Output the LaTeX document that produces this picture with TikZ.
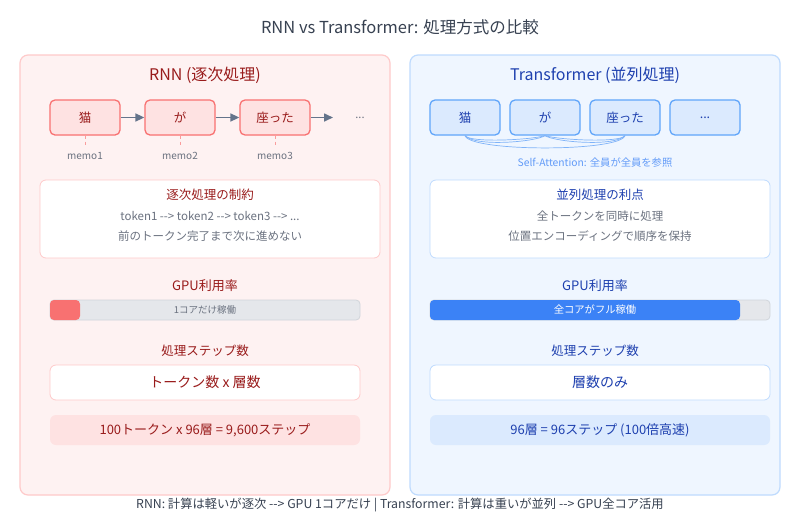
\documentclass[tikz,border=0pt]{standalone}
\usepackage{fontspec}
\setmainfont[Ligatures=TeXOff]{Noto Sans CJK JP}
\usetikzlibrary{arrows.meta}
\definecolor{rPanel}{HTML}{FEF2F2}
\definecolor{rPanelB}{HTML}{FECACA}
\definecolor{rTok}{HTML}{FEE2E2}
\definecolor{rTokB}{HTML}{F87171}
\definecolor{rText}{HTML}{991B1B}
\definecolor{rBar}{HTML}{F87171}
\definecolor{bPanel}{HTML}{EFF6FF}
\definecolor{bPanelB}{HTML}{BFDBFE}
\definecolor{bTok}{HTML}{DBEAFE}
\definecolor{bTokB}{HTML}{60A5FA}
\definecolor{bText}{HTML}{1E40AF}
\definecolor{bBar}{HTML}{3B82F6}
\definecolor{bAtt}{HTML}{7FB3F8}
\definecolor{greyT}{HTML}{6B7280}
\definecolor{arrowC}{HTML}{64748B}
\definecolor{barBg}{HTML}{E5E7EB}
\definecolor{barB}{HTML}{D1D5DB}
\definecolor{darkT}{HTML}{374151}
\tikzset{
  panel/.style={rounded corners=8pt, line width=1.2pt, minimum width=370pt, minimum height=440pt, inner sep=0pt},
  tokbox/.style={rounded corners=5pt, line width=1.3pt, minimum width=70pt, minimum height=35pt, inner sep=0pt, font=\fontsize{12.5}{14}\selectfont},
  infobox/.style={rounded corners=6pt, line width=0.8pt, fill=white, minimum width=340pt, minimum height=78pt, inner sep=0pt},
  stepbox/.style={rounded corners=6pt, line width=0.8pt, fill=white, minimum width=310pt, minimum height=35pt, inner sep=0pt, font=\fontsize{14}{16}\selectfont},
  resbox/.style={rounded corners=6pt, minimum width=310pt, minimum height=30pt, inner sep=0pt, font=\fontsize{13}{15}\selectfont},
  ttl/.style={font=\fontsize{16}{19}\selectfont},
  hd/.style={font=\fontsize{12.5}{14}\selectfont},
  small/.style={font=\fontsize{11.5}{13}\selectfont, text=greyT},
  tiny/.style={font=\fontsize{10}{11}\selectfont},
  flow/.style={-{Triangle[length=9pt,width=8pt]}, line width=1.6pt, draw=arrowC},
}
\begin{document}
\begin{tikzpicture}[x=1pt,y=-1pt]
\useasboundingbox (0,0) rectangle (800,520);
\fill[white] (0,0) rectangle (800,520);
\node[font=\fontsize{16.5}{19}\selectfont, text=darkT] (title) at (400,27) {RNN vs Transformer: 処理方式の比較};

% ---------- left panel ----------
\node[panel, fill=rPanel, draw=rPanelB] (pl) at (205,275) {};
\node[ttl, text=rText] (lt) at (205,75) {RNN (逐次処理)};
\node[tokbox, fill=rTok, draw=rTokB, text=rText] (r1) at (85,117.5) {猫};
\node[tokbox, fill=rTok, draw=rTokB, text=rText] (r2) at (180,117.5) {が};
\node[tokbox, fill=rTok, draw=rTokB, text=rText] (r3) at (275,117.5) {座った};
\node[text=greyT, font=\fontsize{11}{12}\selectfont] (rdots) at (360,117.5) {...};
\coordinate (rend) at (333,117.5);
\draw[flow] (r1) -- (r2);
\draw[flow] (r2) -- (r3);
\draw[flow] (r3) -- (rend);
\node[tiny, text=greyT] (m1) at (85,156) {memo1};
\node[tiny, text=greyT] (m2) at (180,156) {memo2};
\node[tiny, text=greyT] (m3) at (275,156) {memo3};
\coordinate (d1) at (85,147);
\coordinate (d2) at (180,147);
\coordinate (d3) at (275,147);
\draw[rBar!70, line width=1pt, dash pattern=on 3pt off 3pt] (r1.south) -- (d1);
\draw[rBar!70, line width=1pt, dash pattern=on 3pt off 3pt] (r2.south) -- (d2);
\draw[rBar!70, line width=1pt, dash pattern=on 3pt off 3pt] (r3.south) -- (d3);

\node[infobox, draw=rPanelB] (lc) at (210,219) {};
\node[hd, text=rText] (lch) at (210,195) {逐次処理の制約};
\node[small] (lc1) at (210,216) {token1 --> token2 --> token3 --> ...};
\node[small] (lc2) at (210,236) {前のトークン完了まで次に進めない};

\node[font=\fontsize{13}{15}\selectfont, text=rText] (lg) at (205,286) {GPU利用率};
\node[rounded corners=4pt, fill=barBg, draw=barB, line width=0.8pt, minimum width=310pt, minimum height=20pt, inner sep=0pt] (lbar) at (205,310) {};
\fill[rBar, rounded corners=4pt] (50,300) rectangle (80,320);
\node[font=\fontsize{9.5}{11}\selectfont, text=greyT] (lbt) at (205,310) {1コアだけ稼働};

\node[hd, text=rText] (ls) at (205,351) {処理ステップ数};
\node[stepbox, draw=rPanelB, text=rText] (lsb) at (205,382.5) {トークン数 x 層数};
\node[resbox, fill=rTok, text=rText] (lr) at (205,430) {100トークン x 96層 = 9,600ステップ};

% ---------- right panel ----------
\node[panel, fill=bPanel, draw=bPanelB] (pr) at (595,275) {};
\node[ttl, text=bText] (rt) at (595,75) {Transformer (並列処理)};
\node[tokbox, fill=bTok, draw=bTokB, text=bText] (b1) at (465,117.5) {猫};
\node[tokbox, fill=bTok, draw=bTokB, text=bText] (b2) at (545,117.5) {が};
\node[tokbox, fill=bTok, draw=bTokB, text=bText] (b3) at (625,117.5) {座った};
\node[tokbox, fill=bTok, draw=bTokB, text=bText] (b4) at (705,117.5) {...};
\begin{scope}[draw=bAtt, line width=0.7pt]
\draw (b1.south) .. controls (475,147) and (535,142) .. (b2.south);
\draw (b1.south) .. controls (470,143) and (530,140) .. (b2.south);
\draw (b2.south) .. controls (555,142) and (615,147) .. (b3.south);
\draw (b2.south) .. controls (560,140) and (620,143) .. (b3.south);
\draw (b1.south) .. controls (470,152) and (620,152) .. (b3.south);
\end{scope}
\node[font=\fontsize{10.3}{12}\selectfont, text=bBar!80] (sa) at (595,163) {Self-Attention: 全員が全員を参照};

\node[infobox, draw=bPanelB] (rc) at (600,219) {};
\node[hd, text=bText] (rch) at (600,195) {並列処理の利点};
\node[small] (rc1) at (600,216) {全トークンを同時に処理};
\node[small] (rc2) at (600,236) {位置エンコーディングで順序を保持};

\node[font=\fontsize{13}{15}\selectfont, text=bText] (rg) at (595,286) {GPU利用率};
\node[rounded corners=4pt, fill=barBg, draw=barB, line width=0.8pt, minimum width=340pt, minimum height=20pt, inner sep=0pt] (rbar) at (600,310) {};
\fill[bBar, rounded corners=4pt] (430,300) rectangle (740,320);
\node[font=\fontsize{10.3}{12}\selectfont, text=white] (rbt) at (595,310) {全コアがフル稼働};

\node[hd, text=bText] (rs) at (595,351) {処理ステップ数};
\node[stepbox, minimum width=340pt, draw=bPanelB, text=bText] (rsb) at (600,382.5) {層数のみ};
\node[resbox, minimum width=340pt, fill=bTok, text=bText] (rr) at (600,430) {96層 = 96ステップ (100倍高速)};

% ---------- footer ----------
\node[font=\fontsize{12.3}{14}\selectfont, text=darkT] (foot) at (400,505) {RNN: 計算は軽いが逐次 --> GPU 1コアだけ | Transformer: 計算は重いが並列 --> GPU全コア活用};
\end{tikzpicture}
\end{document}
